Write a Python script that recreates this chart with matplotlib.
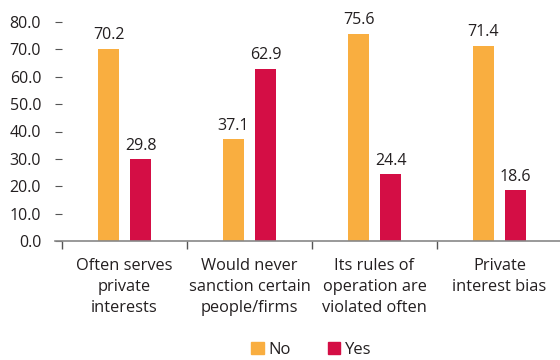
import numpy as np
import matplotlib
matplotlib.use('Agg')
import matplotlib.pyplot as plt
from matplotlib.patches import Patch

categories = ['Often serves\nprivate\ninterests',
              'Would never\nsanction certain\npeople/firms',
              'Its rules of\noperation are\nviolated often',
              'Private\ninterest bias']
no_vals = [70.2, 37.1, 75.6, 71.4]
yes_vals = [29.8, 62.9, 24.4, 18.6]
yticks = [0, 10, 20, 30, 40, 50, 60, 70, 80]

plt.rcParams['font.family'] = ['Open Sans', 'DejaVu Sans']
txt = '#231f20'
c_no = '#F9AE40'
c_yes = '#D40E45'

fig = plt.figure(figsize=(5.6, 3.6), dpi=100)
ax = fig.add_axes([55 / 560, 1 - 241 / 360, 505 / 560, 219 / 360])

x = np.arange(len(categories))
w = 0.168
off = 0.128
b1 = ax.bar(x - off, no_vals, w, color=c_no)
b2 = ax.bar(x + off, yes_vals, w, color=c_yes)

for bars, vals in ((b1, no_vals), (b2, yes_vals)):
    for b, v in zip(bars, vals):
        ax.annotate(f'{v:.1f}', (b.get_x() + b.get_width() / 2, v),
                    xytext=(0, 4), textcoords='offset points',
                    ha='center', va='bottom', fontsize=11.5, color=txt)

ax.set_xlim(-0.556, 3.484)
ax.set_ylim(0, 80)
ax.set_yticks(yticks)
ax.set_yticklabels([f'{t:.1f}' for t in yticks])

ax.set_xticks(x)
ax.set_xticklabels(categories, fontsize=11.8, color=txt, linespacing=1.45, va='top')
ax.tick_params(axis='x', which='major', length=0, pad=12)
ax.set_xticks([-0.5, 0.5, 1.5, 2.5], minor=True)
ax.tick_params(axis='x', which='minor', length=6, direction='out', color='#555555', width=1)

ax.spines['left'].set_position(('data', -0.5))
ax.spines['left'].set_color('none')
ax.spines['top'].set_visible(False)
ax.spines['right'].set_visible(False)
ax.spines['bottom'].set_color('#888888')
ax.spines['bottom'].set_linewidth(1.2)
ax.tick_params(axis='y', length=5, direction='out', color='#555555', pad=10,
               labelsize=11.5, labelcolor=txt)

handles = [Patch(color=c_no, label='No'), Patch(color=c_yes, label='Yes')]
fig.legend(handles=handles, loc='lower center', bbox_to_anchor=(0.556, -0.035),
           ncol=2, frameon=False, fontsize=12, handlelength=0.75, handleheight=0.75,
           handletextpad=0.3, columnspacing=2.2, labelcolor=txt)

fig.savefig('out.png', dpi=100)
